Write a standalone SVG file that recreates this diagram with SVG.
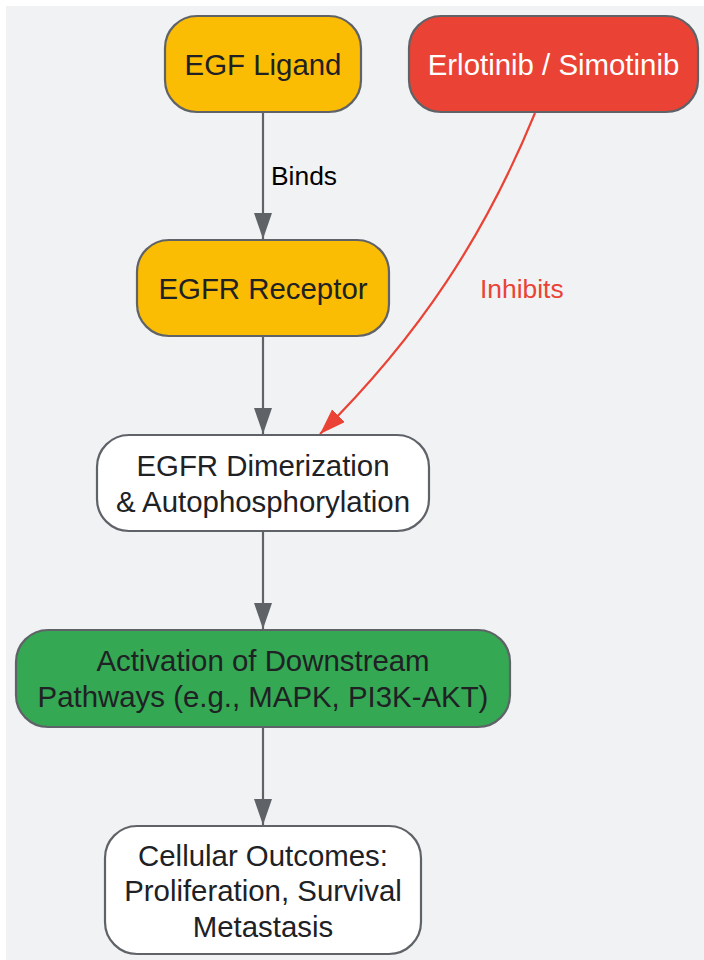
<svg xmlns="http://www.w3.org/2000/svg" width="704" height="960" viewBox="0 0 704 960">
<style>
.node{stroke:#5f6368;stroke-width:2.2}
.t{font-family:"Liberation Sans",Arial,sans-serif;font-size:29.4px;fill:#202124;text-anchor:middle}
.w{fill:#ffffff}
.lbl{font-family:"Liberation Sans",Arial,sans-serif;font-size:26.4px}
.edge{fill:none;stroke:#5f6368;stroke-width:2.2}
.red{fill:none;stroke:#ea4335;stroke-width:2.2}
</style>
<defs>
<marker id="ag" markerUnits="userSpaceOnUse" markerWidth="28" markerHeight="20" refX="26" refY="9" orient="auto">
<path d="M0,0 L26,9 L0,18 Z" fill="#5f6368"/>
</marker>
<marker id="ar" markerUnits="userSpaceOnUse" markerWidth="28" markerHeight="20" refX="26" refY="9" orient="auto">
<path d="M0,0 L26,9 L0,18 Z" fill="#ea4335"/>
</marker>
</defs>
<rect x="6" y="6" width="698" height="954" fill="#f1f2f4"/>
<g id="connectors">
<line class="edge" x1="263" y1="112" x2="263" y2="239" marker-end="url(#ag)"/>
<line class="edge" x1="263" y1="336" x2="263" y2="434" marker-end="url(#ag)"/>
<line class="edge" x1="263" y1="531" x2="263" y2="629" marker-end="url(#ag)"/>
<line class="edge" x1="263" y1="727" x2="263" y2="825" marker-end="url(#ag)"/>
<path class="red" d="M535,113 C485,235 420,335 320,434" marker-end="url(#ar)"/>
<text class="lbl" x="271" y="185" fill="#000000">Binds</text>
<text class="lbl" x="480" y="298" fill="#ea4335">Inhibits</text>
</g>
<g id="egf">
<rect class="node" x="165" y="16" width="196" height="96" rx="32" fill="#fbbc04"/>
<text class="t" x="263" y="75">EGF Ligand</text>
</g>
<g id="drug">
<rect class="node" x="409" y="16" width="289" height="96" rx="32" fill="#ea4335"/>
<text class="t w" x="553.5" y="75">Erlotinib / Simotinib</text>
</g>
<g id="egfr">
<rect class="node" x="137" y="240" width="252" height="96" rx="32" fill="#fbbc04"/>
<text class="t" x="263" y="299">EGFR Receptor</text>
</g>
<g id="dimer">
<rect class="node" x="97" y="435" width="332" height="96" rx="32" fill="#ffffff"/>
<text class="t" x="263" y="475.5">EGFR Dimerization</text>
<text class="t" x="263" y="511.5">&amp; Autophosphorylation</text>
</g>
<g id="activation">
<rect class="node" x="16" y="630" width="494" height="97" rx="32" fill="#34a853"/>
<text class="t" x="263" y="670.5">Activation of Downstream</text>
<text class="t" x="263" y="706.5">Pathways (e.g., MAPK, PI3K-AKT)</text>
</g>
<g id="outcomes">
<rect class="node" x="105" y="826" width="316" height="128" rx="32" fill="#ffffff"/>
<text class="t" x="263" y="865.5">Cellular Outcomes:</text>
<text class="t" x="263" y="901">Proliferation, Survival</text>
<text class="t" x="263" y="936.5">Metastasis</text>
</g>
</svg>
